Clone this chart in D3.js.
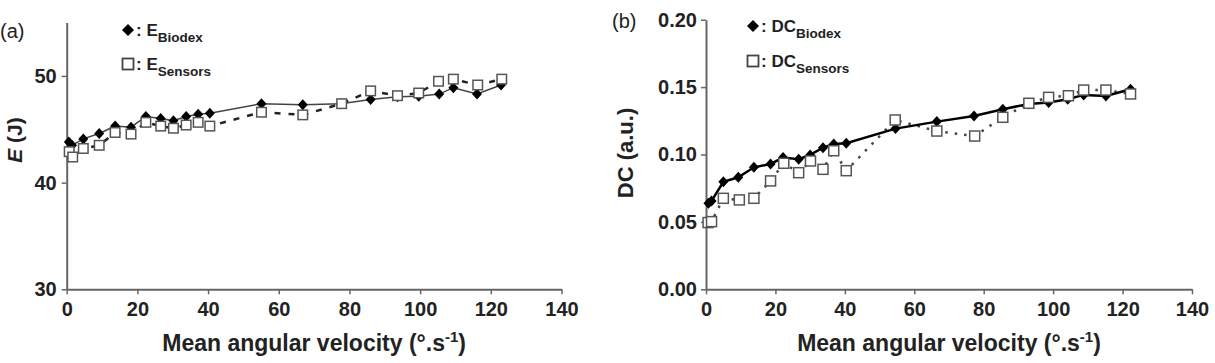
<!DOCTYPE html>
<html>
<head>
<meta charset="utf-8">
<script src="https://cdn.jsdelivr.net/npm/d3@7"></script>
<style>
  body { margin: 0; background: #fff; }
  svg { font-family: "Liberation Sans", Arial, sans-serif; }
</style>
</head>
<body>
<svg id="chart" width="1215" height="363"></svg>
<script>
// Panel (a): energy E (J)
const eBiodexX = [0.6, 1.5, 4.7, 9.2, 13.7, 18.2, 22.4, 26.6, 30.2, 33.8, 37.2, 40.5, 55.1, 66.8, 77.6, 86.0, 93.6, 99.6, 105.4, 109.4, 116.1, 122.9];
const eBiodexY = [43.8, 43.5, 44.1, 44.6, 45.3, 45.2, 46.2, 46.0, 45.8, 46.2, 46.4, 46.5, 47.4, 47.3, 47.4, 47.8, 48.05, 48.1, 48.3, 48.9, 48.3, 49.15];
const eSensorsX = [0.7, 1.7, 4.7, 9.2, 13.7, 18.2, 22.4, 26.6, 30.2, 33.8, 37.2, 40.5, 55.1, 66.8, 77.8, 86.0, 93.6, 99.6, 105.2, 109.4, 116.3, 123.1];
const eSensorsY = [42.9, 42.4, 43.2, 43.5, 44.7, 44.55, 45.65, 45.3, 45.1, 45.4, 45.65, 45.3, 46.6, 46.35, 47.4, 48.6, 48.15, 48.4, 49.5, 49.7, 49.15, 49.7];

// Panel (b): DC (a.u.)
const dcBiodexX = [0.7, 1.6, 5.0, 9.3, 13.8, 18.6, 22.2, 26.7, 30.0, 33.7, 36.8, 40.4, 54.6, 66.5, 77.2, 85.5, 93.0, 98.7, 104.2, 108.8, 115.2, 122.3];
const dcBiodexY = [0.0638, 0.0655, 0.0798, 0.0831, 0.0905, 0.093, 0.0977, 0.0965, 0.0997, 0.105, 0.1078, 0.1083, 0.1192, 0.1244, 0.1286, 0.1336, 0.1375, 0.1385, 0.141, 0.1442, 0.1434, 0.1484];
const dcSensorsX = [0.6, 1.6, 5.0, 9.6, 13.8, 18.6, 22.4, 26.7, 30.1, 33.7, 36.8, 40.4, 54.5, 66.5, 77.4, 85.5, 93.0, 98.7, 104.4, 108.8, 115.2, 122.3];
const dcSensorsY = [0.0495, 0.0502, 0.0675, 0.0663, 0.0675, 0.0804, 0.0935, 0.0865, 0.0952, 0.089, 0.1028, 0.088, 0.1256, 0.1174, 0.1137, 0.1276, 0.138, 0.1424, 0.1436, 0.1478, 0.1478, 0.1449];

const xTicks = [0, 20, 40, 60, 80, 100, 120, 140];
const eTicks = [30, 40, 50];
const dcTicks = [0, 0.05, 0.10, 0.15, 0.20];

const svg = d3.select("#chart");
const axisColor = "#666";
const diamond = "M0,-5.5L5,0L0,5.5L-5,0Z";

function zip(xs, ys) { return xs.map((x, i) => ({ x: x, y: ys[i] })); }

function drawPanel(cfg) {
    const x = d3.scaleLinear().domain([0, 140]).range(cfg.xRange);
    const y = d3.scaleLinear().domain(cfg.yDomain).range(cfg.yRange);
    const g = svg.append("g");

    // axes
    const xAxis = g.append("g")
        .attr("transform", `translate(0,${cfg.yRange[0]})`)
        .call(d3.axisBottom(x).tickValues(xTicks).tickSize(5).tickSizeOuter(0).tickPadding(8).tickFormat(d3.format("d")));
    const yAxis = g.append("g")
        .attr("transform", `translate(${cfg.xRange[0]},0)`)
        .call(d3.axisLeft(y).tickValues(cfg.yTicks).tickSize(5).tickSizeOuter(0).tickPadding(cfg.yPad).tickFormat(cfg.yFormat));
    [xAxis, yAxis].forEach(a => {
        a.select(".domain").attr("stroke", axisColor).attr("stroke-width", 2);
        a.selectAll(".tick line").attr("stroke", axisColor).attr("stroke-width", 1.5);
        a.selectAll(".tick text").attr("fill", "#222").style("font-size", "20px").style("font-weight", "bold");
    });

    const line = d3.line().x(d => x(d.x)).y(d => y(d.y));

    // sensors line
    g.append("path").datum(cfg.sensors)
        .attr("fill", "none").attr("stroke", cfg.sStroke)
        .attr("stroke-width", cfg.sWidth)
        .attr("stroke-dasharray", cfg.sDash)
        .attr("d", line);
    // biodex line
    g.append("path").datum(cfg.biodex)
        .attr("fill", "none").attr("stroke", cfg.bStroke)
        .attr("stroke-width", cfg.bWidth)
        .attr("d", line);

    g.selectAll(".dia").data(cfg.biodex).enter().append("path")
        .attr("d", diamond)
        .attr("transform", d => `translate(${x(d.x)},${y(d.y)})`)
        .attr("fill", "#000");
    const s = cfg.sq;
    g.selectAll(".sq").data(cfg.sensors).enter().append("rect")
        .attr("x", d => x(d.x) - s / 2).attr("y", d => y(d.y) - s / 2)
        .attr("width", s).attr("height", s)
        .attr("fill", "#fff").attr("stroke", "#555").attr("stroke-width", 1.5);

    // axis titles
    g.append("text")
        .attr("x", (cfg.xRange[0] + cfg.xRange[1]) / 2)
        .attr("y", 351)
        .attr("text-anchor", "middle")
        .style("font-size", "23px").style("font-weight", "bold").attr("fill", "#222")
        .text("Mean angular velocity (°.s")
        .append("tspan").attr("dy", -9).style("font-size", "15px").text("-1")
        .select(function () { return this.parentNode; })
        .append("tspan").attr("dy", 9).text(")");

    const yt = g.append("text")
        .attr("transform", `translate(${cfg.yTitleX},${cfg.yTitleY}) rotate(-90)`)
        .attr("text-anchor", "middle")
        .style("font-size", cfg.yTitleSize).style("font-weight", "bold").attr("fill", "#222");
    cfg.yTitle(yt);

    // panel label
    g.append("text")
        .attr("x", cfg.labelX).attr("y", cfg.labelY)
        .style("font-size", "20px").attr("fill", "#222")
        .text(cfg.label);

    // legend
    const lx = cfg.legendX;
    g.append("path").attr("d", "M0,-6L6,0L0,6L-6,0Z")
        .attr("transform", `translate(${lx},${cfg.legendY[0]})`).attr("fill", "#000");
    g.append("rect").attr("x", lx - 5.5).attr("y", cfg.legendY[1] - 5.5)
        .attr("width", 11).attr("height", 11)
        .attr("fill", "#fff").attr("stroke", "#444").attr("stroke-width", 1.8);
    cfg.legendText.forEach((t, i) => {
        const tx = g.append("text")
            .attr("x", lx + 8).attr("y", cfg.legendY[i] + 6)
            .style("font-size", "17px").style("font-weight", "bold").attr("fill", "#222")
            .text(": " + cfg.legendMain);
        tx.append("tspan").attr("dy", 6).style("font-size", "13.5px").text(t);
    });
}

drawPanel({
    xRange: [66.7, 561.5], yDomain: [30, 55], yRange: [289.3, 22.6],
    yTicks: eTicks, yFormat: d3.format("d"), yPad: 5,
    biodex: zip(eBiodexX, eBiodexY), sensors: zip(eSensorsX, eSensorsY),
    bStroke: "#444", bWidth: 1.5,
    sStroke: "#222", sWidth: 2.5, sDash: "6,8", sq: 9.5,
    yTitleX: 22, yTitleY: 140, yTitleSize: "21px",
    yTitle: t => {
        t.append("tspan").style("font-style", "italic").text("E");
        t.append("tspan").text(" (J)");
    },
    label: "(a)", labelX: 0, labelY: 38,
    legendX: 128, legendY: [30, 64], legendMain: "E", legendText: ["Biodex", "Sensors"]
});

drawPanel({
    xRange: [706, 1192], yDomain: [0, 0.2], yRange: [289.3, 19.7],
    yTicks: dcTicks, yFormat: d3.format(".2f"), yPad: 4,
    biodex: zip(dcBiodexX, dcBiodexY), sensors: zip(dcSensorsX, dcSensorsY),
    bStroke: "#000", bWidth: 2.5,
    sStroke: "#444", sWidth: 2.5, sDash: "2.5,7", sq: 10,
    yTitleX: 633, yTitleY: 153, yTitleSize: "22px",
    yTitle: t => t.text("DC (a.u.)"),
    label: "(b)", labelX: 612, labelY: 28,
    legendX: 753, legendY: [26, 61], legendMain: "DC", legendText: ["Biodex", "Sensors"]
});
</script>
</body>
</html>
